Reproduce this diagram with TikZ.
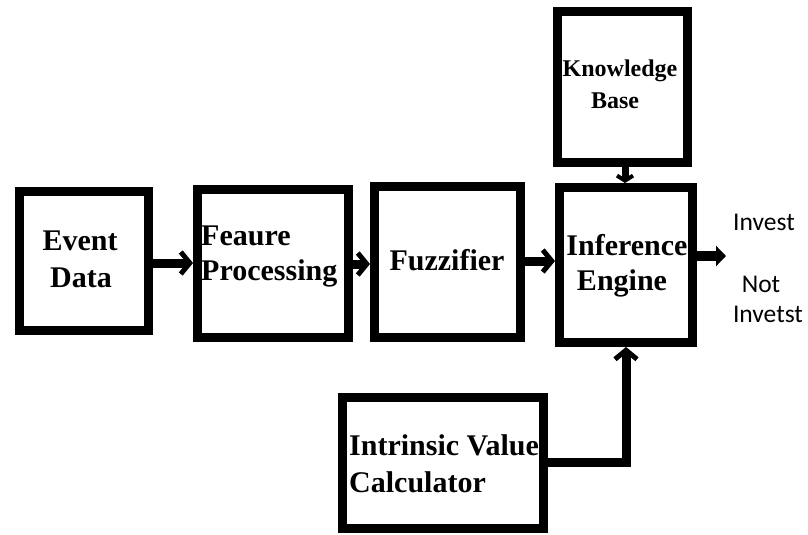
\documentclass[tikz,border=0pt]{standalone}
\usepackage{fontspec}
\setmainfont{Liberation Serif}
\newfontfamily\outfont{Carlito}
\usetikzlibrary{arrows.meta}
\begin{document}
\begin{tikzpicture}[x=1pt,y=-1pt,
  blk/.style={draw=black,line width=9pt,fill=white,inner sep=0pt},
  lbl/.style={inner sep=0pt,font=\bfseries\fontsize{30}{36}\selectfont},
  klbl/.style={inner sep=0pt,font=\bfseries\fontsize{24}{30}\selectfont},
  olbl/.style={inner sep=0pt,anchor=base,font=\outfont\fontsize{25.5}{30}\selectfont},
  arr/.style={line width=9pt,-{Straight Barb[length=9pt,width=22pt,line width=5pt]}},
  arrs/.style={line width=7pt,-{Straight Barb[length=5pt,width=16pt,line width=4pt]}},
  arrf/.style={line width=10pt,-{Triangle[length=10pt,width=20pt]}}]
\useasboundingbox (0,0) rectangle (808,535);
% boxes
\node[blk,minimum width=129pt,minimum height=139pt] (ev) at (84,261) {};
\node[blk,minimum width=151pt,minimum height=148pt] (fp) at (273,263.5) {};
\node[blk,minimum width=146pt,minimum height=151pt] (fz) at (447.5,262) {};
\node[blk,minimum width=133pt,minimum height=155pt] (ie) at (626,265) {};
\node[blk,minimum width=130pt,minimum height=151pt] (kb) at (622.5,87) {};
\node[blk,minimum width=201pt,minimum height=131pt] (iv) at (443,463) {};
% texts
\node[lbl,anchor=base] (t1) at (80,250) {Event};
\node[lbl,anchor=base] (t2) at (81,287) {Data};
\node[lbl,anchor=base west] (t3) at (201,245) {Feaure};
\node[lbl,anchor=base west] (t4) at (201,280) {Processing};
\node[lbl,anchor=base] (t5) at (447,270) {Fuzzifier};
\node[lbl,anchor=base] (t6) at (627,255) {Inference};
\node[lbl,anchor=base] (t7) at (622,290) {Engine};
\node[klbl,anchor=base] (t8) at (620,77) {Knowledge};
\node[klbl,anchor=base] (t9) at (615,108) {Base};
\node[lbl,anchor=base west] (t10) at (349,455) {Intrinsic Value};
\node[lbl,anchor=base west] (t11) at (349,492) {Calculator};
\node[olbl] (o1) at (764,230) {Invest};
\node[olbl] (o2) at (761,292) {Not};
\node[olbl] (o3) at (768,322) {Invetst};
\coordinate (out) at (726,256);
% connectors
\draw[arr] (ev.east |- 0,263) -- (fp.west |- 0,263);
\draw[arr] (fp.east |- 0,264) -- (fz.west |- 0,264);
\draw[arr] (fz.east |- 0,261) -- (ie.west |- 0,261);
\draw[arrf] (ie.east |- out) -- (out);
\draw[arrs] (kb.south -| 625,0) -- (ie.north -| 625,0);
\draw[arr] (iv.east |- 0,462) -| (ie.south -| 626,0);
\end{tikzpicture}
\end{document}
